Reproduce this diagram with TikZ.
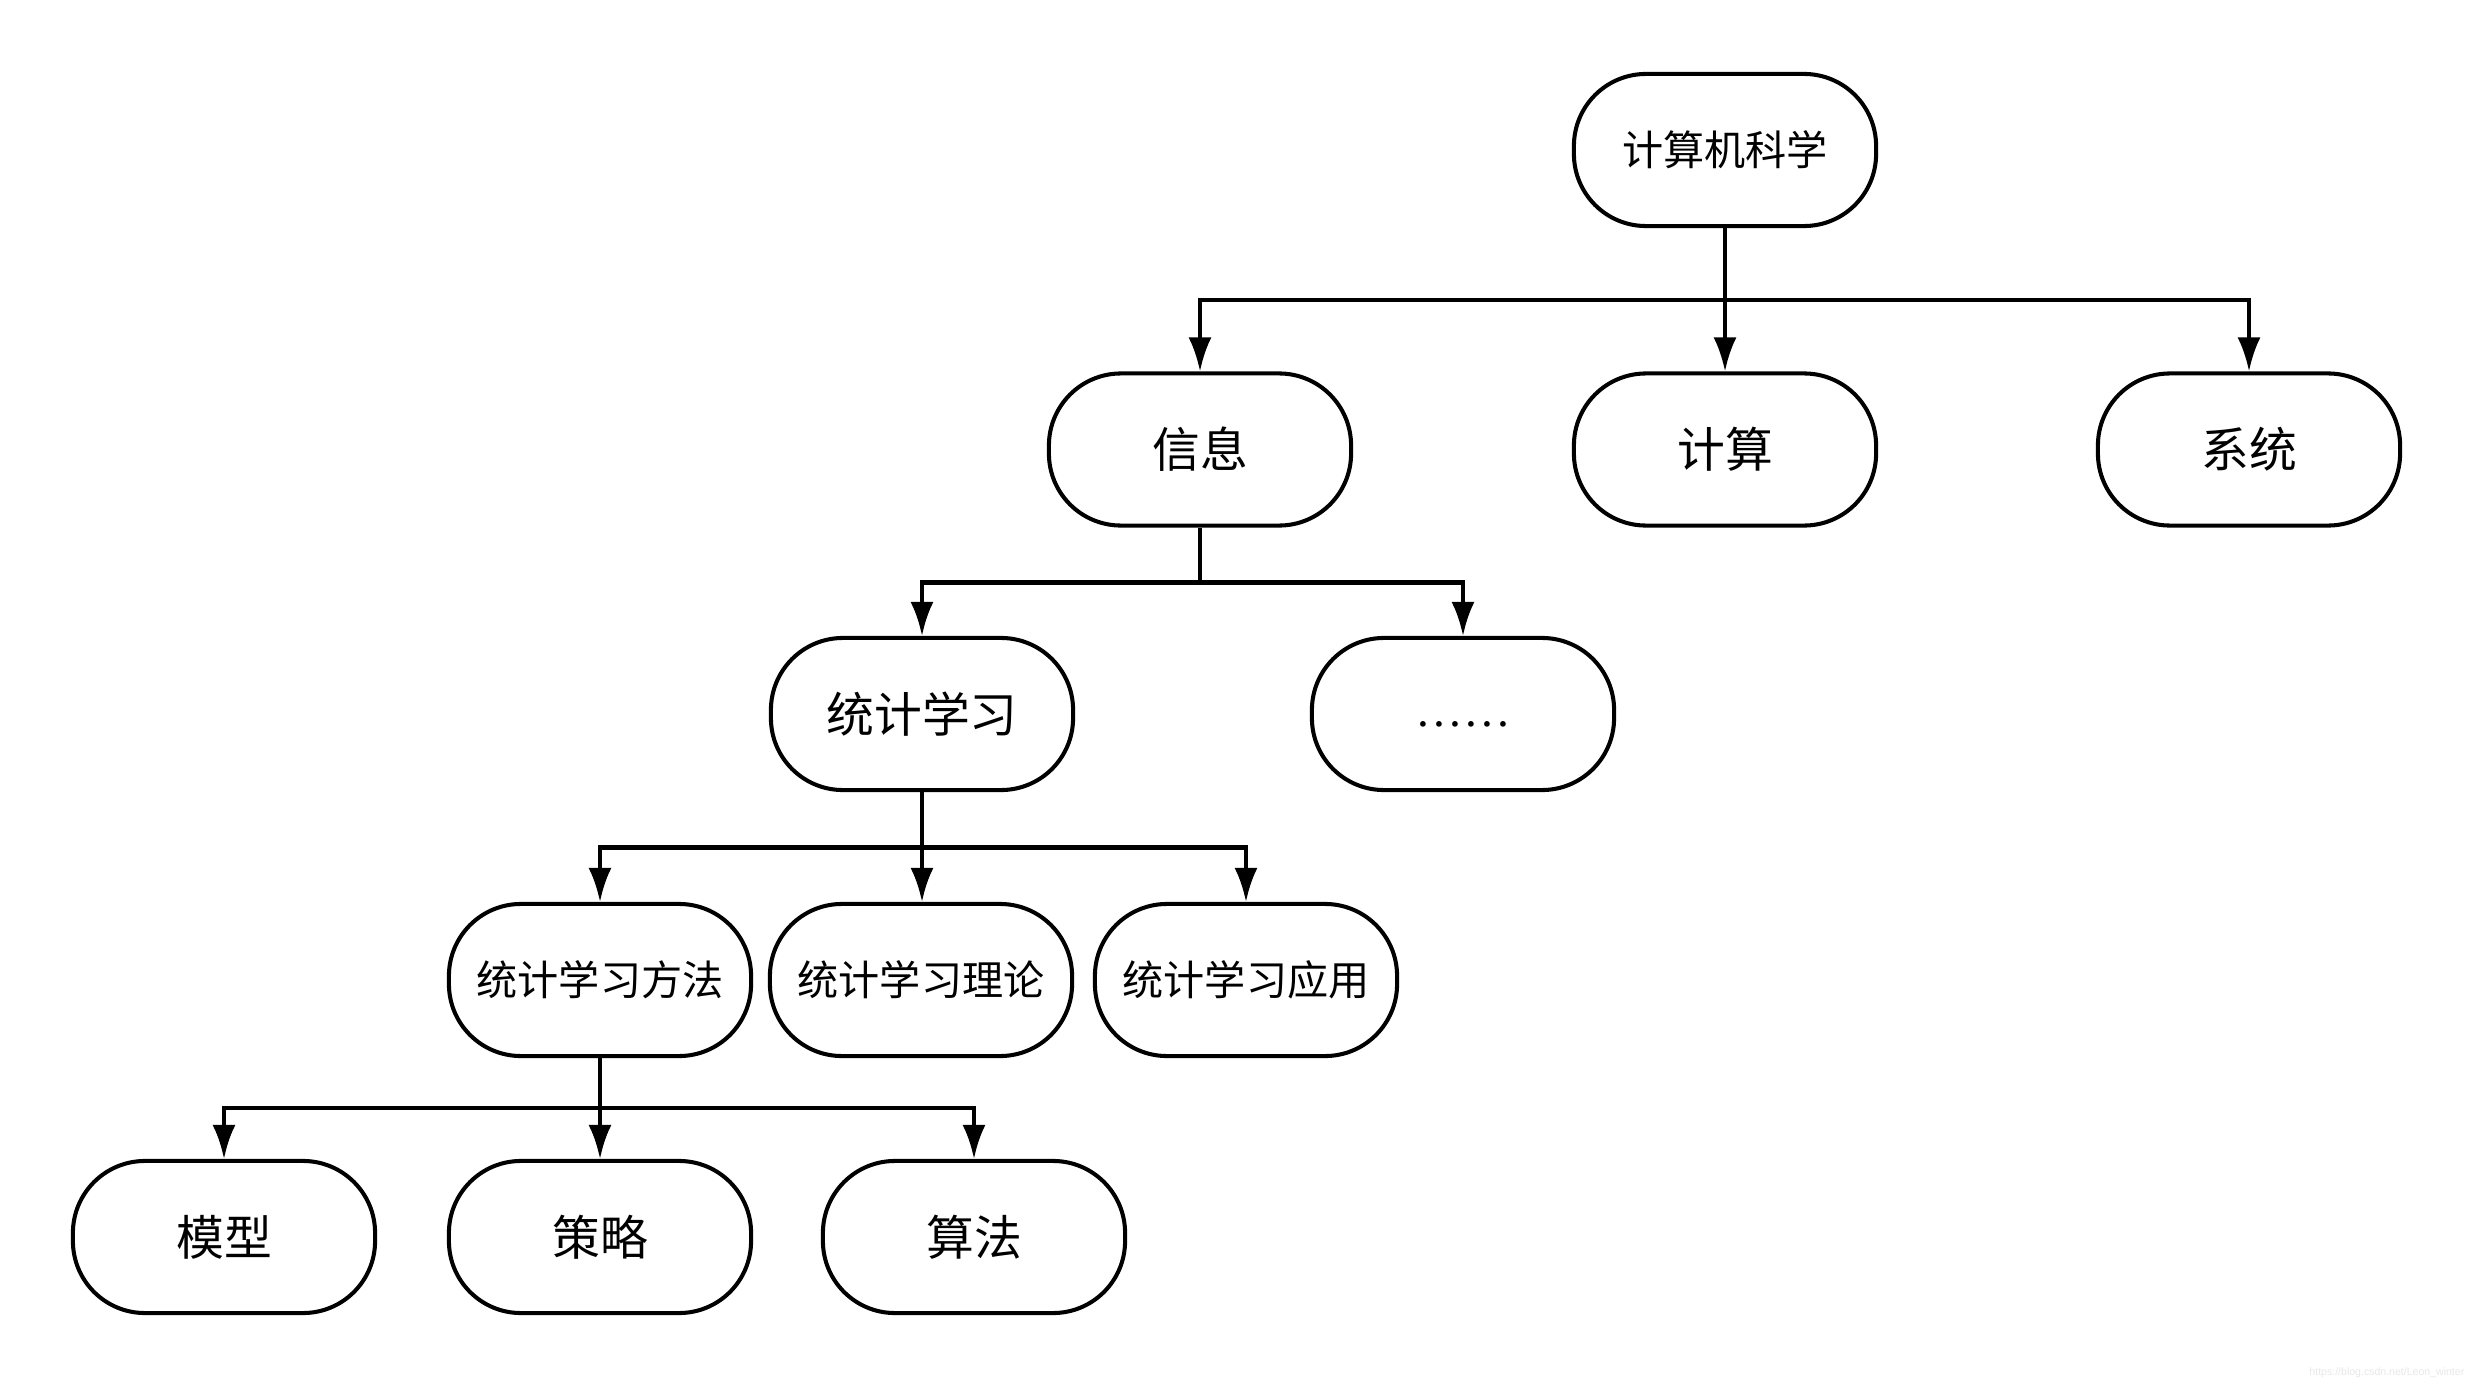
\documentclass[tikz,border=0pt]{standalone}
\usepackage{fontspec}
\newfontfamily\cjk{Noto Sans CJK SC}
\newfontfamily\dotsfont{Liberation Serif}
\newfontfamily\wmfont{Liberation Sans}
\usetikzlibrary{arrows.meta}
\begin{document}
\begin{tikzpicture}[x=0.01cm,y=-0.01cm,
  box/.style={draw=black,line width=1.15pt,rounded corners=0.72cm,minimum width=3.02cm,minimum height=1.52cm,inner sep=0pt,fill=white},
  big/.style={font=\cjk\fontsize{13.6pt}{16pt}\selectfont},
  small/.style={font=\cjk\fontsize{11.7pt}{14pt}\selectfont},
  line/.style={line width=1.15pt,draw=black},
  arr/.style={line width=1.15pt,draw=black,-{Latex[length=3.4mm,width=2.3mm]}}]
\useasboundingbox (0,0) rectangle (2475,1388);
\fill[white] (0,0) rectangle (2475,1388);
% nodes
\node[box,small] (root) at (1725,150) {计算机科学};
\node[box,big] (info) at (1200,449.5) {信息};
\node[box,big] (calc) at (1725,449.5) {计算};
\node[box,big] (sys) at (2249,449.5) {系统};
\node[box,big] (stat) at (922,714) {统计学习};
\node[box,text height=0.24cm,text depth=0cm,font=\dotsfont\fontsize{13.6pt}{16pt}\selectfont] (etc) at (1463,714) {……};
\node[box,small] (meth) at (600,980) {统计学习方法};
\node[box,small] (theo) at (921,980) {统计学习理论};
\node[box,small] (appl) at (1246,980) {统计学习应用};
\node[box,big] (model) at (224,1237) {模型};
\node[box,big] (strat) at (600,1237) {策略};
\node[box,big] (algo) at (974,1237) {算法};
% bus coordinates
\coordinate (b1) at (1725,300);
\coordinate (b2) at (1200,582.5);
\coordinate (b3) at (922,847.5);
\coordinate (b4) at (600,1108);
% level 1
\draw[line] (root.south) -- (b1);
\draw[arr] (b1) -| (info.north);
\draw[arr] (b1) -- (calc.north);
\draw[arr] (b1) -| (sys.north);
% level 2
\draw[line] (info.south) -- (b2);
\draw[arr] (b2) -| (stat.north);
\draw[arr] (b2) -| (etc.north);
% level 3
\draw[line] (stat.south) -- (b3);
\draw[arr] (b3) -| (meth.north);
\draw[arr] (b3) -- (theo.north -| b3);
\draw[arr] (b3) -| (appl.north);
% level 4
\draw[line] (meth.south) -- (b4);
\draw[arr] (b4) -| (model.north);
\draw[arr] (b4) -- (strat.north);
\draw[arr] (b4) -| (algo.north);
% watermark
\node[anchor=east,inner sep=0pt,text=black!9,font=\wmfont\fontsize{3pt}{4pt}\selectfont] (wm) at (2465,1373) {https://blog.csdn.net/Leon\_winter};
\end{tikzpicture}
\end{document}
